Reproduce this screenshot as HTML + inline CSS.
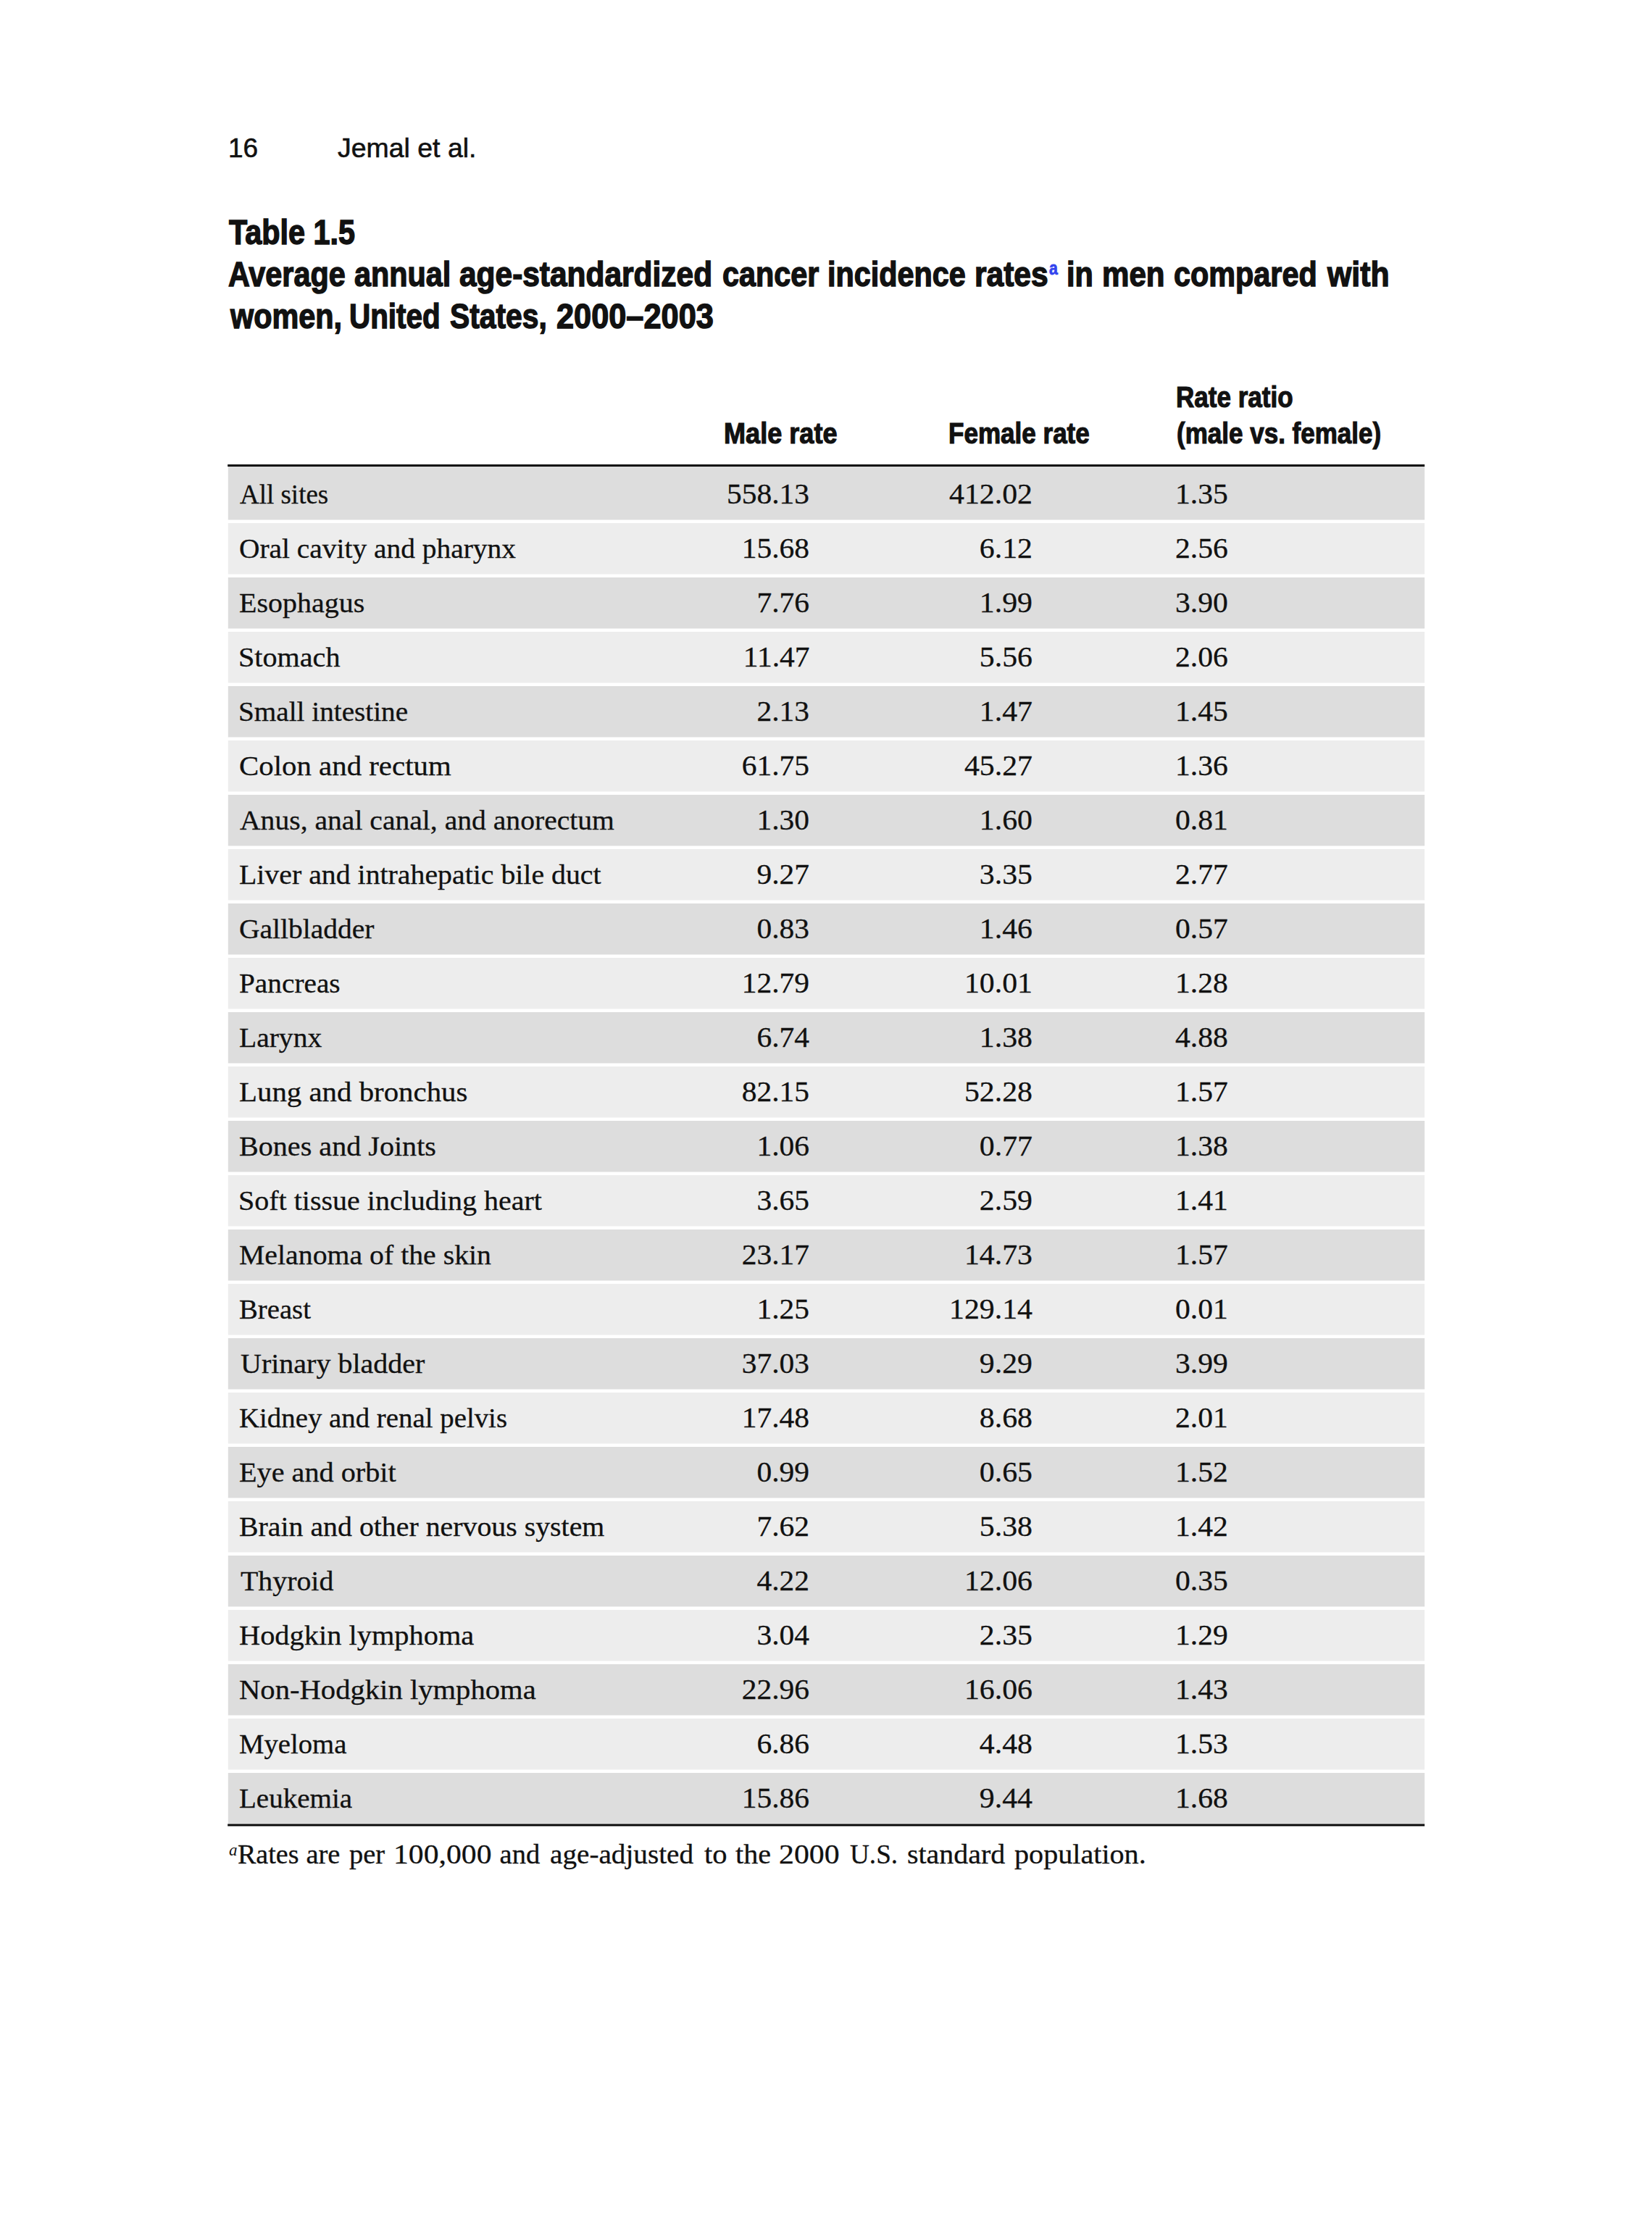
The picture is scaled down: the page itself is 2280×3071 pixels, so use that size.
<!DOCTYPE html>
<html lang="en"><head><meta charset="utf-8"><title>Table 1.5</title>
<style>
html,body{margin:0;padding:0;background:#fff;}
body{width:2280px;height:3071px;position:relative;overflow:hidden;color:#111;}
.t{position:absolute;display:block;white-space:nowrap;line-height:1;transform-origin:0 0;}
.r{transform-origin:100% 0;}
.s{font-family:"Liberation Sans",sans-serif;-webkit-text-stroke:0.6px #111;}
.b{font-family:"Liberation Sans",sans-serif;font-weight:bold;}
.h1{-webkit-text-stroke:1.5px #111;}
.h2{-webkit-text-stroke:1.2px #111;}
.f{font-family:"Liberation Serif",serif;}
.fw{-webkit-text-stroke:0.3px #111;}
svg{position:absolute;left:0;top:0;}
</style></head><body>

<svg width="2280" height="3071" viewBox="0 0 2280 3071">
<rect x="314.8" y="643" width="1651.4" height="74.5" fill="#dddddd"/>
<rect x="314.8" y="722" width="1651.4" height="70.5" fill="#ededed"/>
<rect x="314.8" y="797" width="1651.4" height="70.5" fill="#dddddd"/>
<rect x="314.8" y="872" width="1651.4" height="70.5" fill="#ededed"/>
<rect x="314.8" y="947" width="1651.4" height="70.5" fill="#dddddd"/>
<rect x="314.8" y="1022" width="1651.4" height="70.5" fill="#ededed"/>
<rect x="314.8" y="1097" width="1651.4" height="70.5" fill="#dddddd"/>
<rect x="314.8" y="1172" width="1651.4" height="70.5" fill="#ededed"/>
<rect x="314.8" y="1247" width="1651.4" height="70.5" fill="#dddddd"/>
<rect x="314.8" y="1322" width="1651.4" height="70.5" fill="#ededed"/>
<rect x="314.8" y="1397" width="1651.4" height="70.5" fill="#dddddd"/>
<rect x="314.8" y="1472" width="1651.4" height="70.5" fill="#ededed"/>
<rect x="314.8" y="1547" width="1651.4" height="70.5" fill="#dddddd"/>
<rect x="314.8" y="1622" width="1651.4" height="70.5" fill="#ededed"/>
<rect x="314.8" y="1697" width="1651.4" height="70.5" fill="#dddddd"/>
<rect x="314.8" y="1772" width="1651.4" height="70.5" fill="#ededed"/>
<rect x="314.8" y="1847" width="1651.4" height="70.5" fill="#dddddd"/>
<rect x="314.8" y="1922" width="1651.4" height="70.5" fill="#ededed"/>
<rect x="314.8" y="1997" width="1651.4" height="70.5" fill="#dddddd"/>
<rect x="314.8" y="2072" width="1651.4" height="70.5" fill="#ededed"/>
<rect x="314.8" y="2147" width="1651.4" height="70.5" fill="#dddddd"/>
<rect x="314.8" y="2222" width="1651.4" height="70.5" fill="#ededed"/>
<rect x="314.8" y="2297" width="1651.4" height="70.5" fill="#dddddd"/>
<rect x="314.8" y="2372" width="1651.4" height="70.5" fill="#ededed"/>
<rect x="314.8" y="2447" width="1651.4" height="70.5" fill="#dddddd"/>
<rect x="314.2" y="641" width="1652" height="3" fill="#0a0a0a"/>
<rect x="314.2" y="2517.5" width="1652" height="3" fill="#0a0a0a"/>
</svg>
<div>
<span class="t s" style="left:315.00px;top:186.38px;font-size:37px;transform:scaleX(1.0000);">16</span>
<span class="t s" style="left:465.60px;top:186.38px;font-size:37px;transform:scaleX(1.0118);">Jemal et al.</span>
</div>
<div>
<span class="t b h1" style="left:315.70px;top:296.44px;font-size:48.5px;transform:scaleX(0.8528);">Table 1.5</span>
</div>
<div>
<span class="t b h1" style="left:315.30px;top:354.04px;font-size:48.5px;transform:scaleX(0.8528);">Average</span>
<span class="t b h1" style="left:488.60px;top:354.04px;font-size:48.5px;transform:scaleX(0.8528);">annual</span>
<span class="t b h1" style="left:634.20px;top:354.04px;font-size:48.5px;transform:scaleX(0.8751);">age-standardized</span>
<span class="t b h1" style="left:997.30px;top:354.04px;font-size:48.5px;transform:scaleX(0.8528);">cancer</span>
<span class="t b h1" style="left:1142.40px;top:354.04px;font-size:48.5px;transform:scaleX(0.8528);">incidence</span>
<span class="t b h1" style="left:1345.20px;top:354.04px;font-size:48.5px;transform:scaleX(0.8768);">rates</span>
<span class="t b" style="left:1447.80px;top:356.59px;font-size:26px;transform:scaleX(0.8200);color:#3344ee;-webkit-text-stroke:0.8px #3344ee;">a</span>
<span class="t b h1" style="left:1472.20px;top:354.04px;font-size:48.5px;transform:scaleX(0.8528);">in</span>
<span class="t b h1" style="left:1521.40px;top:354.04px;font-size:48.5px;transform:scaleX(0.8675);">men</span>
<span class="t b h1" style="left:1620.00px;top:354.04px;font-size:48.5px;transform:scaleX(0.8528);">compared</span>
<span class="t b h1" style="left:1832.40px;top:354.04px;font-size:48.5px;transform:scaleX(0.8819);">with</span>
</div>
<div>
<span class="t b h1" style="left:317.60px;top:411.94px;font-size:48.5px;transform:scaleX(0.8528);">women,</span>
<span class="t b h1" style="left:482.40px;top:411.94px;font-size:48.5px;transform:scaleX(0.8330);">United</span>
<span class="t b h1" style="left:621.00px;top:411.94px;font-size:48.5px;transform:scaleX(0.8412);">States,</span>
<span class="t b h1" style="left:768.00px;top:411.94px;font-size:48.5px;transform:scaleX(0.8931);">2000–2003</span>
</div>
<div>
<span class="t b h2" style="left:999.00px;top:578.22px;font-size:40.5px;transform:scaleX(0.8911);">Male rate</span>
<span class="t b h2" style="left:1309.00px;top:578.22px;font-size:40.5px;transform:scaleX(0.8652);">Female rate</span>
<span class="t b h2" style="left:1622.60px;top:528.22px;font-size:40.5px;transform:scaleX(0.8647);">Rate ratio</span>
<span class="t b h2" style="left:1623.60px;top:577.72px;font-size:40.5px;transform:scaleX(0.8645);">(male vs. female)</span>
</div>
<div>
<span class="t f fw" style="left:330.80px;top:662.56px;font-size:38.5px;transform:scaleX(0.9603);">All sites</span>
<span class="t r f fw" style="right:1162.80px;top:662.20px;font-size:40px;transform:scaleX(1.0370);">558.13</span>
<span class="t r f fw" style="right:855.00px;top:662.20px;font-size:40px;transform:scaleX(1.0450);">412.02</span>
<span class="t f fw" style="left:1622.40px;top:662.20px;font-size:40px;transform:scaleX(1.0400);">1.35</span>
</div>
<div>
<span class="t f fw" style="left:330.30px;top:737.56px;font-size:38.5px;transform:scaleX(1.0235);">Oral cavity and pharynx</span>
<span class="t r f fw" style="right:1162.80px;top:737.20px;font-size:40px;transform:scaleX(1.0370);">15.68</span>
<span class="t r f fw" style="right:855.00px;top:737.20px;font-size:40px;transform:scaleX(1.0450);">6.12</span>
<span class="t f fw" style="left:1622.40px;top:737.20px;font-size:40px;transform:scaleX(1.0400);">2.56</span>
</div>
<div>
<span class="t f fw" style="left:330.30px;top:812.56px;font-size:38.5px;transform:scaleX(1.0382);">Esophagus</span>
<span class="t r f fw" style="right:1162.80px;top:812.20px;font-size:40px;transform:scaleX(1.0370);">7.76</span>
<span class="t r f fw" style="right:855.00px;top:812.20px;font-size:40px;transform:scaleX(1.0450);">1.99</span>
<span class="t f fw" style="left:1622.40px;top:812.20px;font-size:40px;transform:scaleX(1.0400);">3.90</span>
</div>
<div>
<span class="t f fw" style="left:329.30px;top:887.56px;font-size:38.5px;transform:scaleX(1.0427);">Stomach</span>
<span class="t r f fw" style="right:1162.80px;top:887.20px;font-size:40px;transform:scaleX(1.0370);">11.47</span>
<span class="t r f fw" style="right:855.00px;top:887.20px;font-size:40px;transform:scaleX(1.0450);">5.56</span>
<span class="t f fw" style="left:1622.40px;top:887.20px;font-size:40px;transform:scaleX(1.0400);">2.06</span>
</div>
<div>
<span class="t f fw" style="left:329.30px;top:962.56px;font-size:38.5px;transform:scaleX(1.0181);">Small intestine</span>
<span class="t r f fw" style="right:1162.80px;top:962.20px;font-size:40px;transform:scaleX(1.0370);">2.13</span>
<span class="t r f fw" style="right:855.00px;top:962.20px;font-size:40px;transform:scaleX(1.0450);">1.47</span>
<span class="t f fw" style="left:1622.40px;top:962.20px;font-size:40px;transform:scaleX(1.0400);">1.45</span>
</div>
<div>
<span class="t f fw" style="left:330.30px;top:1037.56px;font-size:38.5px;transform:scaleX(1.0610);">Colon and rectum</span>
<span class="t r f fw" style="right:1162.80px;top:1037.20px;font-size:40px;transform:scaleX(1.0370);">61.75</span>
<span class="t r f fw" style="right:855.00px;top:1037.20px;font-size:40px;transform:scaleX(1.0450);">45.27</span>
<span class="t f fw" style="left:1622.40px;top:1037.20px;font-size:40px;transform:scaleX(1.0400);">1.36</span>
</div>
<div>
<span class="t f fw" style="left:330.80px;top:1112.56px;font-size:38.5px;transform:scaleX(1.0288);">Anus, anal canal, and anorectum</span>
<span class="t r f fw" style="right:1162.80px;top:1112.20px;font-size:40px;transform:scaleX(1.0370);">1.30</span>
<span class="t r f fw" style="right:855.00px;top:1112.20px;font-size:40px;transform:scaleX(1.0450);">1.60</span>
<span class="t f fw" style="left:1622.40px;top:1112.20px;font-size:40px;transform:scaleX(1.0400);">0.81</span>
</div>
<div>
<span class="t f fw" style="left:330.30px;top:1187.56px;font-size:38.5px;transform:scaleX(1.0339);">Liver and intrahepatic bile duct</span>
<span class="t r f fw" style="right:1162.80px;top:1187.20px;font-size:40px;transform:scaleX(1.0370);">9.27</span>
<span class="t r f fw" style="right:855.00px;top:1187.20px;font-size:40px;transform:scaleX(1.0450);">3.35</span>
<span class="t f fw" style="left:1622.40px;top:1187.20px;font-size:40px;transform:scaleX(1.0400);">2.77</span>
</div>
<div>
<span class="t f fw" style="left:330.30px;top:1262.56px;font-size:38.5px;transform:scaleX(1.0263);">Gallbladder</span>
<span class="t r f fw" style="right:1162.80px;top:1262.20px;font-size:40px;transform:scaleX(1.0370);">0.83</span>
<span class="t r f fw" style="right:855.00px;top:1262.20px;font-size:40px;transform:scaleX(1.0450);">1.46</span>
<span class="t f fw" style="left:1622.40px;top:1262.20px;font-size:40px;transform:scaleX(1.0400);">0.57</span>
</div>
<div>
<span class="t f fw" style="left:330.30px;top:1337.56px;font-size:38.5px;transform:scaleX(1.0207);">Pancreas</span>
<span class="t r f fw" style="right:1162.80px;top:1337.20px;font-size:40px;transform:scaleX(1.0370);">12.79</span>
<span class="t r f fw" style="right:855.00px;top:1337.20px;font-size:40px;transform:scaleX(1.0450);">10.01</span>
<span class="t f fw" style="left:1622.40px;top:1337.20px;font-size:40px;transform:scaleX(1.0400);">1.28</span>
</div>
<div>
<span class="t f fw" style="left:330.30px;top:1412.56px;font-size:38.5px;transform:scaleX(1.0270);">Larynx</span>
<span class="t r f fw" style="right:1162.80px;top:1412.20px;font-size:40px;transform:scaleX(1.0370);">6.74</span>
<span class="t r f fw" style="right:855.00px;top:1412.20px;font-size:40px;transform:scaleX(1.0450);">1.38</span>
<span class="t f fw" style="left:1622.40px;top:1412.20px;font-size:40px;transform:scaleX(1.0400);">4.88</span>
</div>
<div>
<span class="t f fw" style="left:330.30px;top:1487.56px;font-size:38.5px;transform:scaleX(1.0611);">Lung and bronchus</span>
<span class="t r f fw" style="right:1162.80px;top:1487.20px;font-size:40px;transform:scaleX(1.0370);">82.15</span>
<span class="t r f fw" style="right:855.00px;top:1487.20px;font-size:40px;transform:scaleX(1.0450);">52.28</span>
<span class="t f fw" style="left:1622.40px;top:1487.20px;font-size:40px;transform:scaleX(1.0400);">1.57</span>
</div>
<div>
<span class="t f fw" style="left:330.30px;top:1562.56px;font-size:38.5px;transform:scaleX(1.0420);">Bones and Joints</span>
<span class="t r f fw" style="right:1162.80px;top:1562.20px;font-size:40px;transform:scaleX(1.0370);">1.06</span>
<span class="t r f fw" style="right:855.00px;top:1562.20px;font-size:40px;transform:scaleX(1.0450);">0.77</span>
<span class="t f fw" style="left:1622.40px;top:1562.20px;font-size:40px;transform:scaleX(1.0400);">1.38</span>
</div>
<div>
<span class="t f fw" style="left:329.30px;top:1637.56px;font-size:38.5px;transform:scaleX(1.0392);">Soft tissue including heart</span>
<span class="t r f fw" style="right:1162.80px;top:1637.20px;font-size:40px;transform:scaleX(1.0370);">3.65</span>
<span class="t r f fw" style="right:855.00px;top:1637.20px;font-size:40px;transform:scaleX(1.0450);">2.59</span>
<span class="t f fw" style="left:1622.40px;top:1637.20px;font-size:40px;transform:scaleX(1.0400);">1.41</span>
</div>
<div>
<span class="t f fw" style="left:330.30px;top:1712.56px;font-size:38.5px;transform:scaleX(1.0333);">Melanoma of the skin</span>
<span class="t r f fw" style="right:1162.80px;top:1712.20px;font-size:40px;transform:scaleX(1.0370);">23.17</span>
<span class="t r f fw" style="right:855.00px;top:1712.20px;font-size:40px;transform:scaleX(1.0450);">14.73</span>
<span class="t f fw" style="left:1622.40px;top:1712.20px;font-size:40px;transform:scaleX(1.0400);">1.57</span>
</div>
<div>
<span class="t f fw" style="left:330.30px;top:1787.56px;font-size:38.5px;transform:scaleX(1.0055);">Breast</span>
<span class="t r f fw" style="right:1162.80px;top:1787.20px;font-size:40px;transform:scaleX(1.0370);">1.25</span>
<span class="t r f fw" style="right:855.00px;top:1787.20px;font-size:40px;transform:scaleX(1.0450);">129.14</span>
<span class="t f fw" style="left:1622.40px;top:1787.20px;font-size:40px;transform:scaleX(1.0400);">0.01</span>
</div>
<div>
<span class="t f fw" style="left:331.50px;top:1862.56px;font-size:38.5px;transform:scaleX(1.0393);">Urinary bladder</span>
<span class="t r f fw" style="right:1162.80px;top:1862.20px;font-size:40px;transform:scaleX(1.0370);">37.03</span>
<span class="t r f fw" style="right:855.00px;top:1862.20px;font-size:40px;transform:scaleX(1.0450);">9.29</span>
<span class="t f fw" style="left:1622.40px;top:1862.20px;font-size:40px;transform:scaleX(1.0400);">3.99</span>
</div>
<div>
<span class="t f fw" style="left:330.30px;top:1937.56px;font-size:38.5px;transform:scaleX(1.0090);">Kidney and renal pelvis</span>
<span class="t r f fw" style="right:1162.80px;top:1937.20px;font-size:40px;transform:scaleX(1.0370);">17.48</span>
<span class="t r f fw" style="right:855.00px;top:1937.20px;font-size:40px;transform:scaleX(1.0450);">8.68</span>
<span class="t f fw" style="left:1622.40px;top:1937.20px;font-size:40px;transform:scaleX(1.0400);">2.01</span>
</div>
<div>
<span class="t f fw" style="left:330.30px;top:2012.56px;font-size:38.5px;transform:scaleX(1.0446);">Eye and orbit</span>
<span class="t r f fw" style="right:1162.80px;top:2012.20px;font-size:40px;transform:scaleX(1.0370);">0.99</span>
<span class="t r f fw" style="right:855.00px;top:2012.20px;font-size:40px;transform:scaleX(1.0450);">0.65</span>
<span class="t f fw" style="left:1622.40px;top:2012.20px;font-size:40px;transform:scaleX(1.0400);">1.52</span>
</div>
<div>
<span class="t f fw" style="left:330.30px;top:2087.56px;font-size:38.5px;transform:scaleX(1.0344);">Brain and other nervous system</span>
<span class="t r f fw" style="right:1162.80px;top:2087.20px;font-size:40px;transform:scaleX(1.0370);">7.62</span>
<span class="t r f fw" style="right:855.00px;top:2087.20px;font-size:40px;transform:scaleX(1.0450);">5.38</span>
<span class="t f fw" style="left:1622.40px;top:2087.20px;font-size:40px;transform:scaleX(1.0400);">1.42</span>
</div>
<div>
<span class="t f fw" style="left:331.80px;top:2162.56px;font-size:38.5px;transform:scaleX(1.0343);">Thyroid</span>
<span class="t r f fw" style="right:1162.80px;top:2162.20px;font-size:40px;transform:scaleX(1.0370);">4.22</span>
<span class="t r f fw" style="right:855.00px;top:2162.20px;font-size:40px;transform:scaleX(1.0450);">12.06</span>
<span class="t f fw" style="left:1622.40px;top:2162.20px;font-size:40px;transform:scaleX(1.0400);">0.35</span>
</div>
<div>
<span class="t f fw" style="left:330.30px;top:2237.56px;font-size:38.5px;transform:scaleX(1.0493);">Hodgkin lymphoma</span>
<span class="t r f fw" style="right:1162.80px;top:2237.20px;font-size:40px;transform:scaleX(1.0370);">3.04</span>
<span class="t r f fw" style="right:855.00px;top:2237.20px;font-size:40px;transform:scaleX(1.0450);">2.35</span>
<span class="t f fw" style="left:1622.40px;top:2237.20px;font-size:40px;transform:scaleX(1.0400);">1.29</span>
</div>
<div>
<span class="t f fw" style="left:330.30px;top:2312.56px;font-size:38.5px;transform:scaleX(1.0554);">Non-Hodgkin lymphoma</span>
<span class="t r f fw" style="right:1162.80px;top:2312.20px;font-size:40px;transform:scaleX(1.0370);">22.96</span>
<span class="t r f fw" style="right:855.00px;top:2312.20px;font-size:40px;transform:scaleX(1.0450);">16.06</span>
<span class="t f fw" style="left:1622.40px;top:2312.20px;font-size:40px;transform:scaleX(1.0400);">1.43</span>
</div>
<div>
<span class="t f fw" style="left:330.30px;top:2387.56px;font-size:38.5px;transform:scaleX(1.0055);">Myeloma</span>
<span class="t r f fw" style="right:1162.80px;top:2387.20px;font-size:40px;transform:scaleX(1.0370);">6.86</span>
<span class="t r f fw" style="right:855.00px;top:2387.20px;font-size:40px;transform:scaleX(1.0450);">4.48</span>
<span class="t f fw" style="left:1622.40px;top:2387.20px;font-size:40px;transform:scaleX(1.0400);">1.53</span>
</div>
<div>
<span class="t f fw" style="left:330.30px;top:2462.56px;font-size:38.5px;transform:scaleX(1.0144);">Leukemia</span>
<span class="t r f fw" style="right:1162.80px;top:2462.20px;font-size:40px;transform:scaleX(1.0370);">15.86</span>
<span class="t r f fw" style="right:855.00px;top:2462.20px;font-size:40px;transform:scaleX(1.0450);">9.44</span>
<span class="t f fw" style="left:1622.40px;top:2462.20px;font-size:40px;transform:scaleX(1.0400);">1.68</span>
</div>
<div>
<span class="t f" style="left:316.00px;top:2541.74px;font-size:23px;transform:scaleX(1.0000);font-style:italic;">a</span>
<span class="t f fw" style="left:327.60px;top:2539.96px;font-size:38.5px;transform:scaleX(0.9869);">Rates</span>
<span class="t f fw" style="left:422.40px;top:2539.96px;font-size:38.5px;transform:scaleX(1.0000);">are</span>
<span class="t f fw" style="left:482.00px;top:2539.96px;font-size:38.5px;transform:scaleX(1.0000);">per</span>
<span class="t f fw" style="left:542.80px;top:2539.96px;font-size:38.5px;transform:scaleX(1.0829);">100,000</span>
<span class="t f fw" style="left:689.60px;top:2539.96px;font-size:38.5px;transform:scaleX(1.0000);">and</span>
<span class="t f fw" style="left:758.60px;top:2539.96px;font-size:38.5px;transform:scaleX(1.0182);">age-adjusted</span>
<span class="t f fw" style="left:971.50px;top:2539.96px;font-size:38.5px;transform:scaleX(1.0536);">to</span>
<span class="t f fw" style="left:1015.30px;top:2539.96px;font-size:38.5px;transform:scaleX(1.0413);">the</span>
<span class="t f fw" style="left:1075.00px;top:2539.96px;font-size:38.5px;transform:scaleX(1.0871);">2000</span>
<span class="t f fw" style="left:1172.80px;top:2539.96px;font-size:38.5px;transform:scaleX(0.9657);">U.S.</span>
<span class="t f fw" style="left:1252.10px;top:2539.96px;font-size:38.5px;transform:scaleX(1.0364);">standard</span>
<span class="t f fw" style="left:1400.00px;top:2539.96px;font-size:38.5px;transform:scaleX(1.0425);">population.</span>
</div>
</body></html>
